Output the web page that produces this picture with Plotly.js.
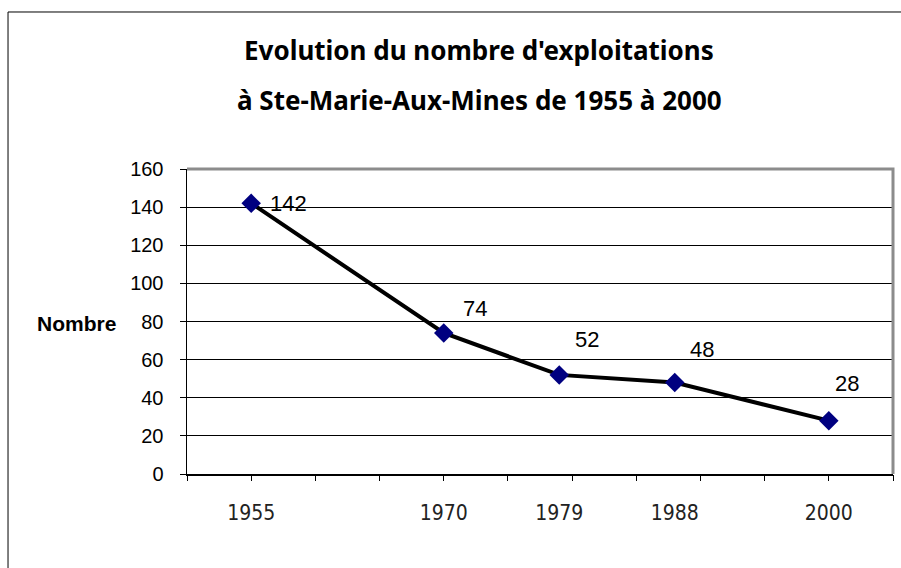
<!DOCTYPE html>
<html>
<head>
<meta charset="utf-8">
<script src="https://cdn.plot.ly/plotly-3.0.1.min.js"></script>
<style>
  html, body { margin: 0; padding: 0; background: #fff; }
  #chart { width: 901px; height: 568px; }
</style>
</head>
<body>
<div id="chart"></div>
<script>
// ---- Data ----
const years = [1955, 1970, 1979, 1988, 2000];
const yearLabels = ['1955', '1970', '1979', '1988', '2000'];
const counts = [142, 74, 52, 48, 28];
const titleLine1 = "Evolution du nombre d'exploitations";
const titleLine2 = "à Ste-Marie-Aux-Mines de 1955 à 2000";
const yTitle = "Nombre";

// ---- Styling (label offsets in px) ----
const labelShift = [[37, 0], [31, 24], [28, 35], [27, 33], [18, 37]];

const lineTrace = {
  type: 'scatter',
  mode: 'lines+markers',
  x: years,
  y: counts,
  line: { color: '#000000', width: 4 },
  marker: { symbol: 'diamond', size: 15, color: '#000080', line: { width: 0 } },
  hoverinfo: 'x+y',
  showlegend: false,
  cliponaxis: false
};

// empty trace that carries the minor (5-year) tick axis
const tickTrace = { type: 'scatter', x: [], y: [], xaxis: 'x2', yaxis: 'y', showlegend: false, hoverinfo: 'skip' };

const annotations = counts.map((v, i) => ({
  x: years[i], y: v, xref: 'x', yref: 'y',
  text: String(v), showarrow: false,
  xanchor: 'center', yanchor: 'middle',
  xshift: labelShift[i][0], yshift: labelShift[i][1],
  font: { family: 'Liberation Sans, Arial, sans-serif', size: 22, color: '#000' }
}));

annotations.push(
  { xref: 'paper', yref: 'paper', x: 0.4136, y: 1.390, text: titleLine1, showarrow: false,
    xanchor: 'center', yanchor: 'middle',
    font: { family: 'Noto Sans, Open Sans, sans-serif', size: 26, color: '#000', weight: 'bold' } },
  { xref: 'paper', yref: 'paper', x: 0.4136, y: 1.226, text: titleLine2, showarrow: false,
    xanchor: 'center', yanchor: 'middle',
    font: { family: 'Noto Sans, Open Sans, sans-serif', size: 26, color: '#000', weight: 'bold' } },
  { xref: 'paper', yref: 'paper', x: -0.157, y: 0.495, text: yTitle, showarrow: false,
    xanchor: 'center', yanchor: 'middle',
    font: { family: 'Liberation Sans, Arial, sans-serif', size: 21, color: '#000', weight: 'bold' } }
);

const layout = {
  width: 901, height: 568,
  margin: { l: 187, r: 8, t: 169, b: 94, pad: 0 },
  paper_bgcolor: '#ffffff',
  plot_bgcolor: '#ffffff',
  showlegend: false,
  xaxis: {
    range: [1950, 2005],
    tickmode: 'array', tickvals: years, ticktext: yearLabels,
    ticks: '', showgrid: false, zeroline: false,
    showline: true, linecolor: '#000', linewidth: 1.5,
    ticklabelstandoff: 19,
    tickfont: { family: 'Liberation Sans Narrow, DejaVu Sans Condensed, Arial Narrow, sans-serif', size: 21, color: '#222' },
    fixedrange: true
  },
  xaxis2: {
    overlaying: 'x', anchor: 'y', side: 'bottom',
    range: [1950, 2005], tickmode: 'linear', tick0: 1950, dtick: 5,
    ticks: 'outside', ticklen: 6, tickwidth: 1, tickcolor: '#000',
    showticklabels: false, showgrid: false, zeroline: false, showline: false,
    fixedrange: true
  },
  yaxis: {
    range: [0, 160], tickmode: 'linear', tick0: 0, dtick: 20,
    ticks: 'outside', ticklen: 6, tickwidth: 1, tickcolor: '#000',
    showgrid: true, gridcolor: '#000', gridwidth: 1,
    zeroline: false, showline: true, linecolor: '#000', linewidth: 1.5,
    ticklabelstandoff: 12,
    tickfont: { family: 'Liberation Sans, Arial, sans-serif', size: 20, color: '#000' },
    fixedrange: true
  },
  shapes: [
    { type: 'path', xref: 'paper', yref: 'paper', path: 'M 0 1 L 1 1 L 1 0',
      line: { color: '#8c8c8c', width: 3 }, layer: 'above' },
    { type: 'rect', xref: 'paper', yref: 'paper', x0: -0.2535, x1: 1.5, y0: -0.6, y1: 1.5148,
      line: { color: '#000', width: 1 }, fillcolor: 'rgba(0,0,0,0)', layer: 'above' }
  ],
  annotations: annotations
};

Plotly.newPlot('chart', [lineTrace, tickTrace], layout, { displayModeBar: false, staticPlot: true });
</script>
</body>
</html>
